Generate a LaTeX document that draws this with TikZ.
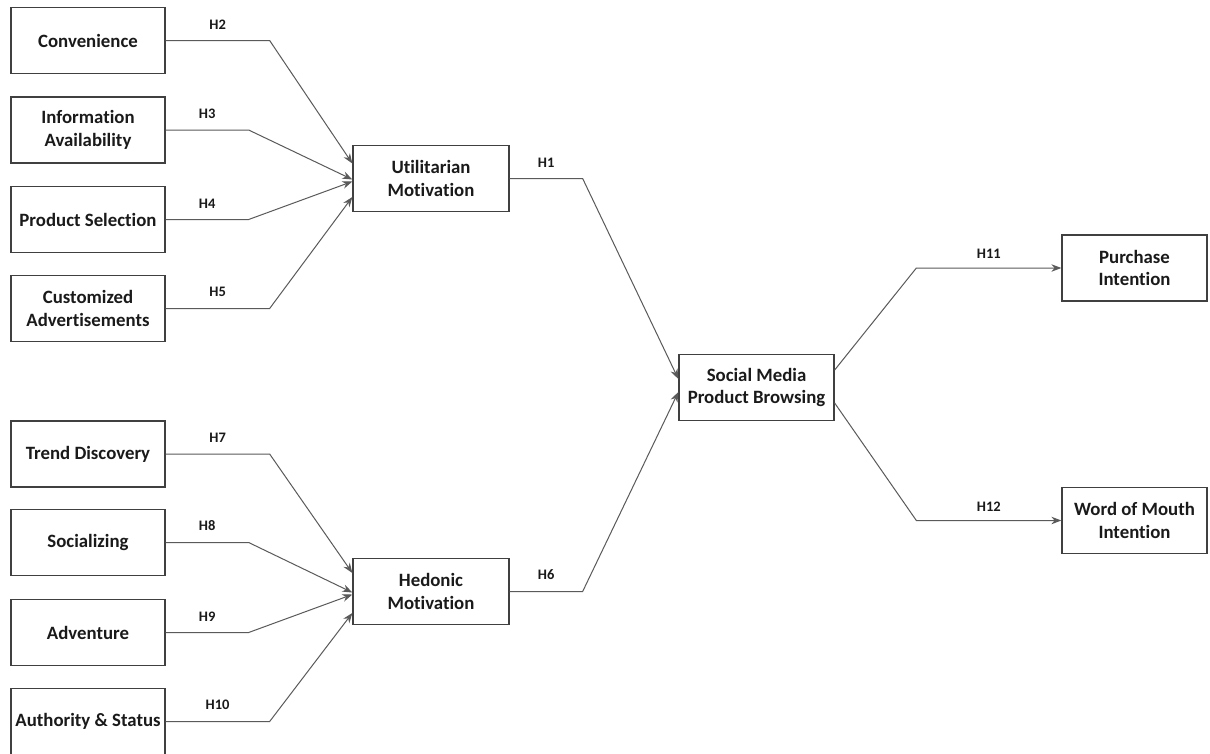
\documentclass[tikz,border=0pt]{standalone}
\usepackage{fontspec}
\setmainfont{Carlito}[Ligatures=NoCommon]
\usetikzlibrary{arrows.meta,positioning}

\definecolor{boxline}{HTML}{404040}
\definecolor{linkgray}{HTML}{5A5A5A}
\definecolor{txtdark}{HTML}{1A1A1A}

\tikzset{
  construct/.style={draw=boxline, line width=1.3pt, text=txtdark, align=center,
    minimum width=155pt, minimum height=66pt, inner sep=2pt,
    font=\fontsize{18.8}{22.5}\selectfont\bfseries},
  link/.style={draw=linkgray, line width=1pt, ->},
  hyp/.style={text=txtdark, inner sep=1pt, font=\fontsize{14.5}{16}\selectfont\bfseries}
}

\begin{document}
\begin{tikzpicture}[x=1pt, y=-1pt, >={Stealth[length=10pt,width=7.5pt]}]
  \clip (0,0) rectangle (1210,753);
  \fill[white] (0,0) rectangle (1210,753);

  % antecedents
  \foreach \name/\txt/\y in {conv/Convenience/40.5, info/{Information\\Availability}/130,
      prod/Product Selection/219.5, cust/{Customized\\Advertisements}/308.5,
      trend/Trend Discovery/454, soc/Socializing/542.5, adv/Adventure/632.5,
      auth/Authority \& Status/721.5} {
    \node[construct, minimum width=154pt] (\name) at (88,\y) {\txt};
  }

  % mediators and outcomes
  \node[construct, minimum width=156pt] (util) at (431,178.5) {Utilitarian\\Motivation};
  \node[construct, minimum width=156pt] (hed) at (431,591.5) {Hedonic\\Motivation};
  \node[construct] (smpb) at (756.5,387.5) {Social Media\\Product Browsing};
  \node[construct, minimum width=145pt] (purch) at (1134.5,268) {Purchase\\Intention};
  \node[construct, minimum width=145pt] (wom) at (1134.5,520.5) {Word of Mouth\\Intention};

  % hypotheses
  \foreach \src/\run/\dst/\dy/\lab in {conv/104/util/15/H2, info/83/util/-1/H3,
      prod/83/util/-3/H4, cust/104/util/-18.5/H5, trend/104/hed/18.5/H7,
      soc/83/hed/-1/H8, adv/83/hed/-3/H9, auth/104/hed/-21.5/H10} {
    \draw[link] (\src.east) -- node[hyp, above=10pt] (l\lab) {\lab}
      ([xshift=\run pt]\src.east) -- ([yshift=\dy pt]\dst.west);
  }

  \draw[link] (util.east) -- node[hyp, above=10pt] (lH1) {H1}
    ([xshift=73pt]util.east) -- ([yshift=8.5pt]smpb.west);
  \draw[link] (hed.east) -- node[hyp, above=10pt] (lH6) {H6}
    ([xshift=73pt]hed.east) -- ([yshift=-4.5pt]smpb.west);

  \draw[link] ([yshift=17.5pt]smpb.east) -- ([xshift=-145pt]purch.west)
    -- node[hyp, above=8pt] (lH11) {H11} (purch.west);
  \draw[link] ([yshift=-15.5pt]smpb.east) -- ([xshift=-145pt]wom.west)
    -- node[hyp, above=8pt] (lH12) {H12} (wom.west);
\end{tikzpicture}
\end{document}
